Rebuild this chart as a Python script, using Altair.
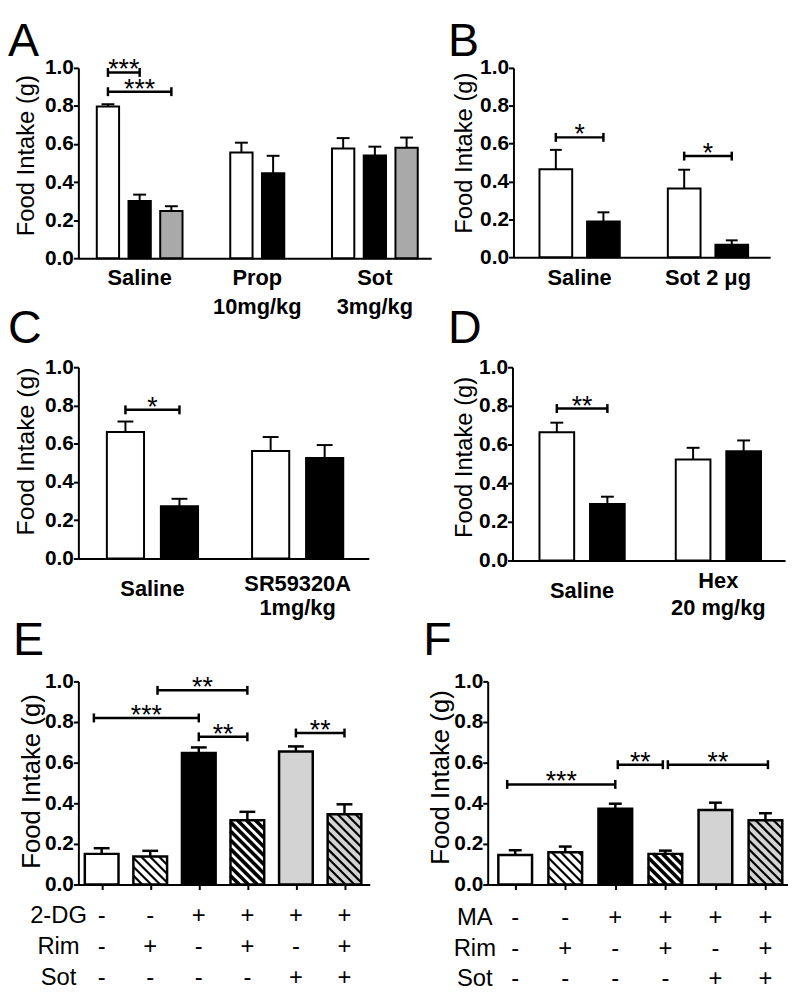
import altair as alt
import pandas as pd

FONT = "Liberation Sans"

# ---------------- data ----------------
Y_TICKS = [0.0, 0.2, 0.4, 0.6, 0.8, 1.0]

A_groups = ["Saline", "Prop\n10mg/kg", "Sot\n3mg/kg"]
A_means = [[0.797, 0.300, 0.248], [0.555, 0.447], [0.577, 0.539, 0.580]]
A_sems = [[0.012, 0.034, 0.025], [0.052, 0.091], [0.054, 0.047, 0.054]]
A_sig = [((0, 0), (0, 1), 0.976, "***"), ((0, 0), (0, 2), 0.875, "***")]

B_groups = ["Saline", "Sot 2 μg"]
B_means = [[0.464, 0.188], [0.363, 0.066]]
B_sems = [[0.103, 0.049], [0.099, 0.023]]
B_sig = [((0, 0), (0, 1), 0.633, "*"), ((1, 0), (1, 1), 0.534, "*")]

C_groups = ["Saline", "SR59320A\n1mg/kg"]
C_means = [[0.661, 0.273], [0.562, 0.525]]
C_sems = [[0.055, 0.039], [0.073, 0.068]]
C_sig = [((0, 0), (0, 1), 0.777, "*")]

D_groups = ["Saline", "Hex\n20 mg/kg"]
D_means = [[0.664, 0.292], [0.522, 0.565]]
D_sems = [[0.049, 0.038], [0.061, 0.056]]
D_sig = [((0, 0), (0, 1), 0.786, "**")]

E_means = [0.151, 0.138, 0.647, 0.317, 0.655, 0.346]
E_sems = [0.028, 0.028, 0.028, 0.041, 0.025, 0.049]
E_rows = ["2-DG", "Rim", "Sot"]
E_signs = [["-", "-", "+", "+", "+", "+"],
           ["-", "+", "-", "+", "-", "+"],
           ["-", "-", "-", "-", "+", "+"]]
E_sig = [(1.15, 3, 0.956, "**"), (-0.16, 2, 0.82, "***"),
         (2, 3, 0.727, "**"), (4, 5, 0.746, "**")]

F_means = [0.146, 0.159, 0.373, 0.151, 0.367, 0.317]
F_sems = [0.023, 0.028, 0.025, 0.016, 0.036, 0.034]
F_rows = ["MA", "Rim", "Sot"]
F_signs = [["-", "-", "+", "+", "+", "+"],
           ["-", "+", "-", "+", "-", "+"],
           ["-", "-", "-", "-", "+", "+"]]
F_sig = [(-0.16, 2, 0.493, "***"), (2.05, 2.95, 0.59, "**"), (3.05, 5.05, 0.59, "**")]

# ---------------- styles / layout ----------------
GROUP_FILLS = ["white", "black", "#a9a9a9"]
TABLE_FILLS = ["white", "white", "black", "white", "#d3d3d3", "#d3d3d3"]
TABLE_HATCH = [0, 2.2, 0, 3.6, 0, 2.2]   # hatch line width, 0 = none

LAYOUT = {
    "A": dict(W=356, H=192, step=32, bw=22.5, cap=13, tfs=24, tp=6, ty=8, dx=-71, off=-9,
              shift=2.5, label_y=[27, 27, 27], lh=29),
    "B": dict(W=259, H=191, step=48, bw=33, cap=12, tfs=24, tp=3, ty=10, dx=-66, off=-9,
              shift=2, label_y=[28, 28], lh=28),
    "C": dict(W=293, H=193, step=54.5, bw=37.5, cap=16, tfs=25, tp=6, ty=12, dx=-71, off=3,
              shift=1.5, label_y=[38, 33], lh=24),
    "D": dict(W=275, H=195, step=51, bw=35, cap=13, tfs=24, tp=2, ty=7, dx=-65, off=3,
              shift=1.5, label_y=[38, 28], lh=27),
    "E": dict(W=294, H=205, bw=34, cap=16, tfs=26, tp=0, ty=2, dx=-66, off=6,
              shift=-1, row_y=[39, 70, 101], row_x=-20),
    "F": dict(W=303, H=205, bw=34, cap=13, tfs=26, tp=0, ty=6, dx=-65, off=6,
              shift=2.5, row_y=[41, 72, 102], row_x=-13),
}


def y_axis(L):
    return alt.Axis(values=Y_TICKS, format=".1f", title="Food Intake (g)",
                    titleFont=FONT, titleFontSize=L["tfs"], titleFontWeight="normal",
                    titleColor="black", titlePadding=L["tp"], titleY=L["H"] / 2 - L["ty"],
                    labelFont=FONT, labelFontSize=21, labelFontWeight="bold",
                    labelColor="black", labelPadding=0, labelOverlap=False,
                    tickSize=5, tickWidth=2, tickColor="black",
                    domainWidth=2, domainColor="black", grid=False)


def x_axis(centers=None):
    if centers is None:
        return alt.Axis(title=None, labels=False, ticks=False, grid=False,
                        domainWidth=2, domainColor="black")
    return alt.Axis(title=None, labels=False, values=centers, ticks=True,
                    tickSize=5, tickWidth=2, tickColor="black", grid=False,
                    domainWidth=2, domainColor="black")


def hatch_lines(xl, bw, value, H, lw, spacing=9.0):
    """diagonal '\\' stripes inside a bar, converted to data units"""
    out = []
    hp = value * H
    k = 1
    while k * spacing < bw + hp:
        cst = k * spacing
        px0 = max(0.0, cst - hp)
        px1 = min(bw, cst)
        out.append(dict(hx=xl + px0, hx2=xl + px1,
                        hy=(cst - px0) / H, hy2=(cst - px1) / H, lw=lw))
        k += 1
    return out


def build_panel(letter, L, bars, hatch, sig, labels, xax, stroke_w):
    W, H = L["W"], L["H"]
    xs = alt.Scale(domain=[0, W], nice=False, zero=False)
    ys = alt.Scale(domain=[0, 1], nice=False, zero=True)
    yax = y_axis(L)

    def X(f):
        return alt.X(f, scale=xs, axis=xax)

    def Y(f):
        return alt.Y(f, scale=ys, axis=yax)

    base = alt.Chart(bars)
    layers = [base.mark_rect(strokeWidth=0).encode(
        x=X("xl:Q"), x2="xr:Q", y=Y("mean:Q"), y2="base:Q",
        fill=alt.Fill("fill:N", scale=None))]
    if hatch is not None and len(hatch):
        layers.append(alt.Chart(hatch).mark_rule(color="black").encode(
            x=X("hx:Q"), x2="hx2:Q", y=Y("hy:Q"), y2="hy2:Q",
            strokeWidth=alt.StrokeWidth("lw:Q", scale=None)))
    layers.append(base.mark_rect(fillOpacity=0, stroke="black", strokeWidth=stroke_w).encode(
        x=X("xl:Q"), x2="xr:Q", y=Y("mean:Q"), y2="base:Q"))
    layers.append(base.mark_rule(color="black", strokeWidth=stroke_w).encode(
        x=X("c:Q"), y=Y("mean:Q"), y2="top:Q"))
    layers.append(base.mark_rule(color="black", strokeWidth=stroke_w).encode(
        x=X("cl:Q"), x2="cr:Q", y=Y("top:Q")))
    sc = alt.Chart(sig)
    layers.append(sc.mark_rule(color="black", strokeWidth=2.5).encode(
        x=X("x1:Q"), x2="x2:Q", y=Y("y:Q")))
    layers.append(sc.mark_rule(color="black", strokeWidth=2.5).encode(
        x=X("x1:Q"), y=Y("ylo:Q"), y2="yhi:Q"))
    layers.append(sc.mark_rule(color="black", strokeWidth=2.5).encode(
        x=X("x2:Q"), y=Y("ylo:Q"), y2="yhi:Q"))
    layers.append(sc.mark_text(font=FONT, fontSize=27, baseline="alphabetic", dy=6,
                               color="black").encode(
        x=X("xm:Q"), y=Y("y:Q"), text="stars:N"))
    layers.extend(labels(X))
    return alt.layer(*layers).properties(
        width=W, height=H,
        title=alt.TitleParams(letter, anchor="start", frame="group", font=FONT,
                              fontSize=47, fontWeight="normal", color="black",
                              dx=L["dx"], offset=L["off"]))


def grouped_panel(letter, groups, means, sems, sig):
    L = LAYOUT[letter]
    W, H = L["W"], L["H"]
    band = W / len(groups)
    rows, centers = [], {}
    for g, (gm, gs) in enumerate(zip(means, sems)):
        n = len(gm)
        for i, (m, s) in enumerate(zip(gm, gs)):
            c = (g + 0.5) * band + L["shift"] + (i - (n - 1) / 2) * L["step"]
            centers[(g, i)] = c
            rows.append(dict(c=c, xl=c - L["bw"] / 2, xr=c + L["bw"] / 2, mean=m,
                             top=m + s, base=0.0, cl=c - L["cap"] / 2,
                             cr=c + L["cap"] / 2, fill=GROUP_FILLS[i]))
    bars = pd.DataFrame(rows)
    d = 4.5 / H
    sig_df = pd.DataFrame([dict(x1=centers[a], x2=centers[b], xm=(centers[a] + centers[b]) / 2,
                                y=y, ylo=y - d, yhi=y + d, stars=t) for a, b, y, t in sig])
    lab_df = pd.DataFrame(dict(label=groups,
                               c=[(g + 0.5) * band + L["shift"] for g in range(len(groups))],
                               ly=[H + v for v in L["label_y"]]))

    def labels(X):
        return [alt.Chart(lab_df).mark_text(font=FONT, fontSize=22, fontWeight="bold",
                                            baseline="alphabetic", lineBreak="\n",
                                            lineHeight=L["lh"], color="black").encode(
            x=X("c:Q"), y=alt.Y("ly:Q", scale=None), text="label:N")]

    return build_panel(letter, L, bars, None, sig_df, labels, x_axis(), 2)


def table_panel(letter, means, sems, row_names, signs, sig):
    L = LAYOUT[letter]
    W, H = L["W"], L["H"]
    step = W / len(means)
    pos = lambda f: (f + 0.5) * step + L["shift"]
    centers = [pos(i) for i in range(len(means))]
    rows, hatch = [], []
    for i, (m, s) in enumerate(zip(means, sems)):
        c = centers[i]
        xl = c - L["bw"] / 2
        rows.append(dict(c=c, xl=xl, xr=c + L["bw"] / 2, mean=m, top=m + s, base=0.0,
                         cl=c - L["cap"] / 2, cr=c + L["cap"] / 2, fill=TABLE_FILLS[i]))
        if TABLE_HATCH[i]:
            hatch.extend(hatch_lines(xl, L["bw"], m, H, TABLE_HATCH[i]))
    bars = pd.DataFrame(rows)
    hatch_df = pd.DataFrame(hatch)
    d = 4.5 / H
    sig_df = pd.DataFrame([dict(x1=pos(a), x2=pos(b), xm=(pos(a) + pos(b)) / 2,
                                y=y, ylo=y - d, yhi=y + d, stars=t) for a, b, y, t in sig])
    sign_rows = []
    for r, rs in enumerate(signs):
        for i, sgn in enumerate(rs):
            sign_rows.append(dict(sign=sgn, c=centers[i], ly=H + L["row_y"][r]))
    sign_df = pd.DataFrame(sign_rows)
    name_df = pd.DataFrame(dict(name=row_names, lx=[L["row_x"]] * len(row_names),
                                ly=[H + v for v in L["row_y"]]))

    def labels(X):
        return [
            alt.Chart(sign_df).mark_text(font=FONT, fontSize=24, baseline="alphabetic",
                                         color="black").encode(
                x=X("c:Q"), y=alt.Y("ly:Q", scale=None), text="sign:N"),
            alt.Chart(name_df).mark_text(font=FONT, fontSize=24, baseline="alphabetic",
                                         align="center", color="black").encode(
                x=alt.X("lx:Q", scale=None),
                y=alt.Y("ly:Q", scale=None), text="name:N"),
        ]

    return build_panel(letter, L, bars, hatch_df, sig_df, labels, x_axis(centers), 2.5)


pA = grouped_panel("A", A_groups, A_means, A_sems, A_sig)
pB = grouped_panel("B", B_groups, B_means, B_sems, B_sig)
pC = grouped_panel("C", C_groups, C_means, C_sems, C_sig)
pD = grouped_panel("D", D_groups, D_means, D_sems, D_sig)
pE = table_panel("E", E_means, E_sems, E_rows, E_signs, E_sig)
pF = table_panel("F", F_means, F_sems, F_rows, F_signs, F_sig)

top_rows = alt.vconcat(
    alt.hconcat(pA, pB, spacing=17),
    alt.hconcat(pC, pD, spacing=80),
    spacing=-12,
)
chart = alt.vconcat(
    top_rows,
    alt.hconcat(pE, pF, spacing=54),
    spacing=-2,
).properties(padding={"left": 0, "top": 5, "right": 0, "bottom": 0},
             background="white").configure_view(stroke=None)

chart.save("out.html", embed_options={"renderer": "svg", "actions": False})
